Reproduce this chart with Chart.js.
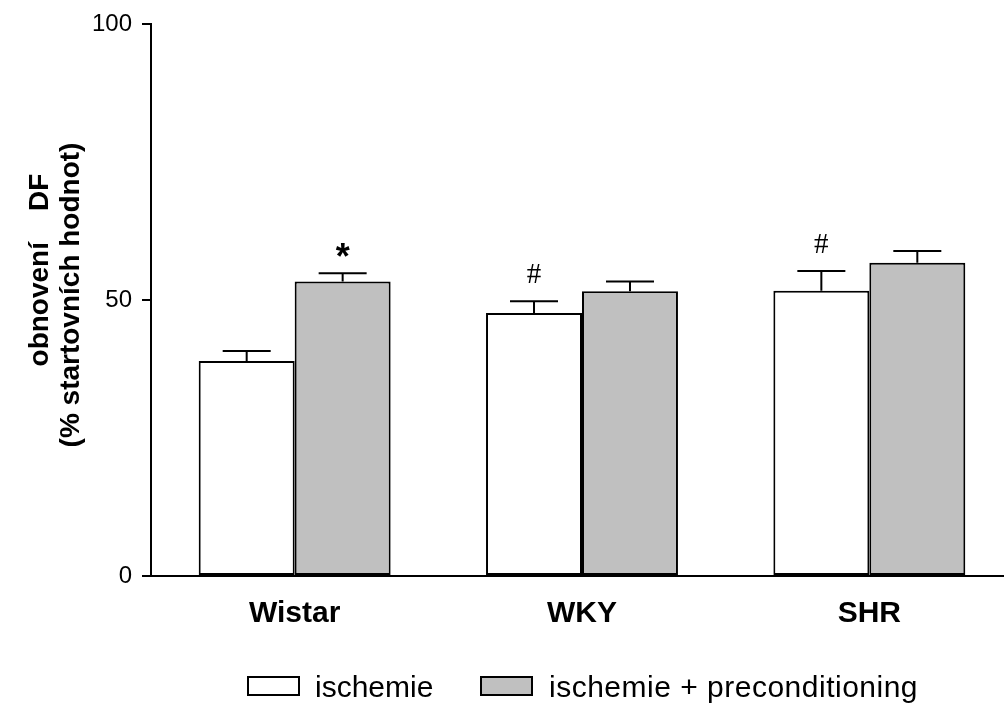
<!DOCTYPE html>
<html>
<head>
<meta charset="utf-8">
<script src="https://cdn.jsdelivr.net/npm/chart.js@4/dist/chart.umd.min.js"></script>
<style>
  html, body { margin: 0; padding: 0; background: #fff; overflow: hidden; }
  #wrap { position: relative; width: 1004px; height: 704px; overflow: hidden; }
  #chart { position: absolute; left: 0; top: 0; }
  .lg { position: absolute; font: 30px/30px "Liberation Sans", Arial, sans-serif; color: #000; white-space: nowrap; }
  .box { position: absolute; width: 49px; height: 16px; border: 2px solid #000; }
</style>
</head>
<body>
<div id="wrap">
  <canvas id="chart" width="1016" height="704"></canvas>
  <div class="box" style="left:247px; top:676px; background:#fff"></div>
  <div class="lg" style="left:315px; top:672px">ischemie</div>
  <div class="box" style="left:480px; top:676px; background:#c0c0c0"></div>
  <div class="lg" style="left:549px; top:672px; letter-spacing:0.5px">ischemie + preconditioning</div>
</div>
<script>
const categories = ['Wistar', 'WKY', 'SHR'];
const ischemie = [39.0, 47.7, 51.7];
const ischemieErr = [1.8, 2.1, 3.6];
const precond = [53.4, 51.6, 56.8];
const precondErr = [1.5, 1.8, 2.1];
const ischemieMarks = ['', '#', '#'];
const precondMarks = ['*', '', ''];
const yTicks = [0, 50, 100];
const yTitle = ['obnovení    DF', '(% startovních hodnot)'];

const font = '"Liberation Sans", Arial, sans-serif';

// SEM whiskers (upward only) plus significance marks above them
const errorBars = {
  id: 'errorBars',
  afterDatasetsDraw(chart) {
    const ctx = chart.ctx;
    const y = chart.scales.y;
    ctx.save();
    ctx.strokeStyle = '#000';
    ctx.lineWidth = 2;
    ctx.fillStyle = '#000';
    ctx.textAlign = 'center';
    ctx.textBaseline = 'middle';
    chart.data.datasets.forEach((ds, i) => {
      const meta = chart.getDatasetMeta(i);
      meta.data.forEach((bar, j) => {
        const top = y.getPixelForValue(ds.data[j] + ds.errors[j]);
        ctx.beginPath();
        ctx.moveTo(bar.x, bar.y);
        ctx.lineTo(bar.x, top);
        ctx.moveTo(bar.x - 24, top);
        ctx.lineTo(bar.x + 24, top);
        ctx.stroke();
        const m = ds.marks[j];
        if (m === '*') {
          ctx.font = 'bold 36px ' + font;
          ctx.fillText(m, bar.x, top - 14);
        } else if (m) {
          ctx.font = '29px "Liberation Serif", serif';
          ctx.fillText(m, bar.x, top - 26);
        }
      });
    });
    ctx.restore();
  }
};

// two-line rotated y-axis title
const yAxisTitle = {
  id: 'yAxisTitle',
  afterDraw(chart) {
    const ctx = chart.ctx;
    const lines = [[48, 270], [79, 295]];
    lines.forEach(([x, y], i) => {
      ctx.save();
      ctx.fillStyle = '#000';
      ctx.font = 'bold 28px ' + font;
      ctx.textAlign = 'center';
      ctx.textBaseline = 'alphabetic';
      ctx.translate(x, y);
      ctx.rotate(-Math.PI / 2);
      ctx.fillText(yTitle[i], 0, 0);
      ctx.restore();
    });
  }
};

new Chart(document.getElementById('chart'), {
  type: 'bar',
  data: {
    labels: categories,
    datasets: [{
      label: 'ischemie',
      data: ischemie,
      errors: ischemieErr,
      marks: ischemieMarks,
      backgroundColor: '#ffffff',
      borderColor: '#000',
      borderWidth: 2,
      borderSkipped: false
    }, {
      label: 'ischemie + preconditioning',
      data: precond,
      errors: precondErr,
      marks: precondMarks,
      backgroundColor: '#c0c0c0',
      borderColor: '#000',
      borderWidth: 2,
      borderSkipped: false
    }]
  },
  options: {
    responsive: false,
    animation: false,
    layout: { padding: { top: 24, right: 3, bottom: 68, left: 0 } },
    datasets: { bar: { categoryPercentage: 0.668, barPercentage: 1 } },
    plugins: {
      legend: { display: false },
      tooltip: { enabled: false }
    },
    scales: {
      x: {
        grid: { display: false },
        border: { display: true, color: '#000', width: 2 },
        ticks: { color: '#000', padding: 12, font: { family: font, size: 30, weight: 'bold' } },
        afterFit: (s) => { s.height = 60; }
      },
      y: {
        min: 0,
        max: 100,
        afterBuildTicks: (s) => { s.ticks = yTicks.map(v => ({ value: v })); },
        grid: { drawOnChartArea: false, drawTicks: true, tickLength: 9, color: '#000', lineWidth: 2 },
        border: { display: true, color: '#000', width: 2 },
        ticks: { color: '#000', padding: 10, font: { family: font, size: 24 } },
        afterFit: (s) => { s.width = 151; }
      }
    }
  },
  plugins: [errorBars, yAxisTitle]
});
</script>
</body>
</html>
